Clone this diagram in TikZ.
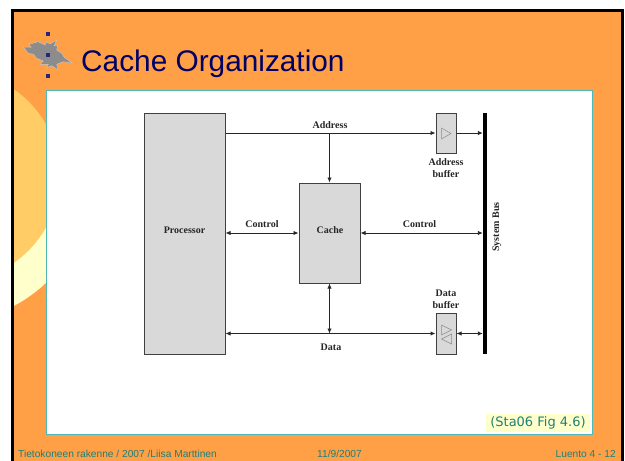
\documentclass[tikz,border=0pt]{standalone}
\usepackage{fontspec}
\usetikzlibrary{arrows.meta}
\setmainfont{Liberation Serif}
\setsansfont{Liberation Sans}
\newfontfamily\notefont{DejaVu Sans}
\definecolor{slideorange}{HTML}{FF9F46}
\definecolor{sunmid}{HTML}{FFCC66}
\definecolor{sunpale}{HTML}{FFFFCC}
\definecolor{panelteal}{HTML}{4DB8B8}
\definecolor{textteal}{HTML}{1F8078}
\definecolor{titlenavy}{HTML}{000066}
\definecolor{boxgray}{HTML}{D9D9D9}
\definecolor{logogray}{HTML}{8C8C8C}
\tikzset{
  unitbox/.style={draw=black!75,line width=1pt,fill=boxgray,inner sep=0pt},
  wirelabel/.style={inner sep=0pt,align=center,font=\rmfamily\bfseries\fontsize{10}{12}\selectfont,text=black!85},
  footer/.style={inner sep=0pt,text=textteal,font=\sffamily\fontsize{10.2}{11}\selectfont},
  wire/.style={draw=black!85,line width=0.9pt},
  tri/.style={draw=black!45,line width=0.5pt,fill=boxgray},
  logodot/.style={fill=titlenavy!85,inner sep=0pt,minimum size=4pt}
}
\begin{document}
\begin{tikzpicture}[x=1pt,y=-1pt,>={Latex[length=5pt,width=4.5pt]}]
\useasboundingbox (0,0) rectangle (625,461);
\fill [white] (0,0) rectangle (625,461);
\fill [slideorange] (12,10) rectangle (622,461);
\draw [black,line width=3pt] (12.5,461) -- (12.5,10.5) -- (622.5,10.5) -- (622.5,461);
\begin{scope}
\clip (14,90) rectangle (46,340);
\begin{scope}
\clip (14,176) rectangle (46,340);
\fill [sunpale] (-55,176) circle (147);
\end{scope}
\fill [sunmid] (-46,176) circle (105.4);
\end{scope}
\draw [panelteal,fill=white,line width=1pt] (46.5,90) rectangle (592.5,434.5);
\fill [logogray,draw=black!20,line width=0.4pt] (23.3,47) -- (31,47.3) -- (29,44.3) -- (38.3,41.7) -- (45,45) -- (46.7,41.7) -- (50,44) -- (56.7,40) -- (54.3,45.7) -- (57.7,45) -- (56.7,50) -- (61.7,53.3) -- (64.3,57.3) -- (72.3,63.3) -- (63.3,61.7) -- (56.7,64.3) -- (58.3,70) -- (51.7,65.7) -- (46.7,67.7) -- (48.3,64.3) -- (40,64.3) -- (43.3,61) -- (36.7,58.3) -- (33.3,54.3) -- (28.3,53.3) -- cycle;
\node (dota) [logodot,minimum size=3.5pt] at (48,34) {};
\node (dotb) [logodot] at (48,55) {};
\node (dotc) [logodot,minimum size=3.5pt] at (48,76) {};
\node (title) [inner sep=0pt,anchor=base west,text=titlenavy,font=\sffamily\fontsize{29.8}{32}\selectfont] at (81,71) {Cache Organization};
\node (processor) [unitbox,minimum width=81pt,minimum height=241pt] at (184.5,233.5) {};
\node (cache) [unitbox,minimum width=61pt,minimum height=100pt] at (329.5,233) {};
\node (addrbuf) [unitbox,minimum width=20pt,minimum height=40pt] at (446,133) {};
\node (databuf) [unitbox,minimum width=20pt,minimum height=41pt] at (446,333.5) {};
\node (bus) [fill=black,inner sep=0pt,minimum width=4pt,minimum height=241pt] at (485,233.5) {};
\fill [tri] (441.5,128) -- (451,133.5) -- (441.5,139) -- cycle;
\fill [tri] (441.5,325) -- (451.5,330) -- (441.5,335) -- cycle;
\fill [tri] (451.5,334) -- (441.5,339) -- (451.5,344) -- cycle;
\coordinate (addrout) at (processor.east |- addrbuf.west);
\coordinate (addrtap) at (cache.north |- addrbuf.west);
\coordinate (datatap) at (cache.south |- databuf.west);
\draw [wire,->] (addrout) -- (addrbuf.west);
\draw [wire,->] (addrtap) -- (cache.north);
\draw [wire,->] (addrbuf.east) -- (addrbuf.east -| bus.west);
\draw [wire,<->] (processor.east |- cache.west) -- (cache.west);
\draw [wire,<->] (cache.east) -- (cache.east -| bus.west);
\draw [wire,<->] (cache.south) -- (datatap);
\draw [wire,<->,line width=1.2pt] (processor.east |- databuf.west) -- (databuf.west);
\draw [wire,<->] (databuf.east) -- (databuf.east -| bus.west);
\node (proclabel) [wirelabel] at (184.5,230) {Processor};
\node (cachelabel) [wirelabel] at (330,230) {Cache};
\node (addrlabel) [wirelabel] at (330,125) {Address};
\node (ctrlleft) [wirelabel] at (262,224) {Control};
\node (ctrlright) [wirelabel] at (419.5,224) {Control};
\node (datalabel) [wirelabel] at (331,347) {Data};
\node (addrname) [wirelabel] at (446,168) {Address\\buffer};
\node (dataname) [wirelabel] at (446,299) {Data\\buffer};
\node (busname) [wirelabel,rotate=90] at (497,227) {System Bus};
\node (note) [fill=sunpale,text=textteal,inner sep=0pt,minimum width=104pt,minimum height=18pt,font=\notefont\fontsize{13}{15}\selectfont] at (538,423) {(Sta06 Fig 4.6)};
\node (footleft) [footer,anchor=base west] at (18,457) {Tietokoneen rakenne / 2007 /Liisa Marttinen};
\node (footmid) [footer,anchor=base] at (339.5,457) {11/9/2007};
\node (footright) [footer,anchor=base east] at (616,457) {Luento 4 - 12};
\end{tikzpicture}
\end{document}
